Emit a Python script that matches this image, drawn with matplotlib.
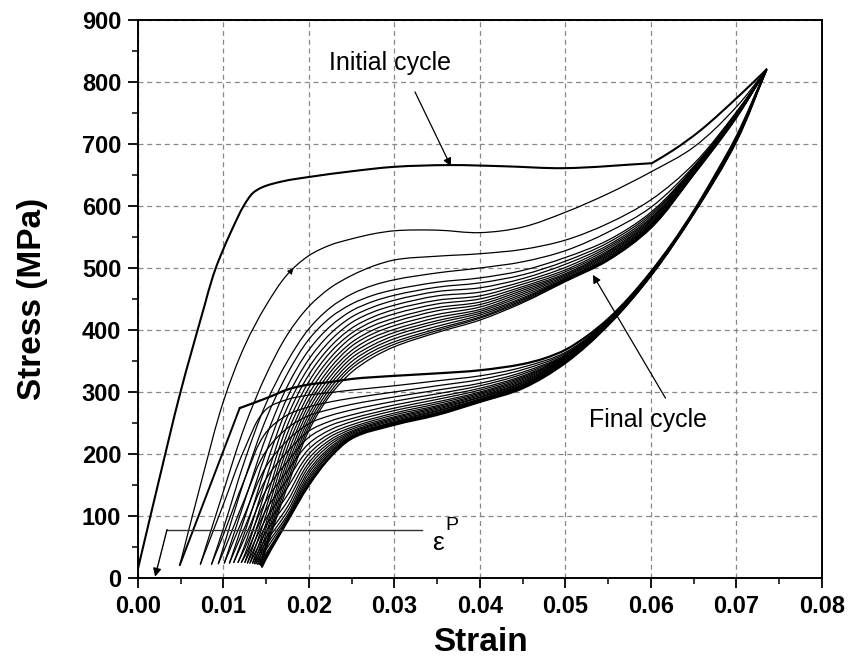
import numpy as np
import matplotlib
matplotlib.use("Agg")
import matplotlib.pyplot as plt
from matplotlib.path import Path
from matplotlib.patches import PathPatch

plt.rcParams['font.family'] = ['Liberation Sans', 'DejaVu Sans']

nan = np.nan

# ---------------- data ----------------
peak_strain = 0.0735
peak_stress = 820

# initial (first) cycle: loading up to the end of the plateau, then hardening branch
init_load_strain = [0.0, 0.0025, 0.0049, 0.0078, 0.0088, 0.0097, 0.0110, 0.0124, 0.01345,
                    0.0145, 0.0170, 0.0201, 0.0250, 0.0298, 0.0365, 0.0430, 0.0497, 0.0601]
init_load_stress = [15, 160, 296, 440, 488, 521, 562, 601, 621,
                    630, 640, 647, 656, 663, 666, 664, 661, 669]
init_harden_strain = [0.0601, 0.0626, 0.0657, 0.0704, 0.0735]
init_harden_stress = [669, 690, 721, 779, 820]
init_unload_strain = [0.0735, 0.070, 0.0675, 0.065, 0.0625, 0.060, 0.0575, 0.055, 0.0525,
                      0.050, 0.0475, 0.045, 0.040, 0.035, 0.030, 0.025, 0.0225, 0.020,
                      0.0175, 0.0154, 0.0119]
init_unload_stress = [820, 712, 650, 592, 540, 494, 453, 418, 390,
                      368, 354, 345, 335, 330, 326, 321, 316, 312,
                      304, 292, 274]
init_elastic_strain = [0.0119, 0.0049]
init_elastic_stress = [274, 21]

# residual strain / stress at the end of each unloading (cycles 1..20)
residual_strain = [0.0049, 0.0073, 0.0086, 0.0094, 0.0101, 0.0107, 0.0112, 0.0117, 0.0121, 0.0125,
                   0.0128, 0.0131, 0.0134, 0.0136, 0.0138, 0.0140, 0.0142, 0.0143, 0.0144, 0.0145]
residual_stress = [21, 22, 22, 23, 24, 24, 25, 25, 25, 25,
                   24, 24, 24, 23, 23, 22, 22, 21, 20, 18]

# loading curves of cycles 2..20 : stress at these strains
load_strain_stations = [0.0075, 0.01, 0.0125, 0.015, 0.0175, 0.02, 0.0225, 0.025, 0.0275,
                        0.03, 0.035, 0.04, 0.045, 0.05, 0.055, 0.06, 0.065, 0.07]
load_stress = [
    [160, 285, 375, 440, 490, 520, 537, 547, 555, 560, 561, 557, 566, 590, 620, 655, 695, 760],
    [nan, 140, 245, 328, 393, 438, 468, 488, 503, 513, 519, 523, 530, 545, 572, 610, 668, 752],
    [nan, 80, 190, 282, 350, 402, 436, 458, 472, 481, 492, 500, 510, 528, 558, 598, 664, 750],
    [nan, 50, 160, 257, 330, 385, 420, 442, 456, 465, 477, 484, 496, 517, 545, 590, 662, 750],
    [nan, nan, 125, 228, 310, 368, 406, 431, 446, 456, 469, 476, 489, 511, 541, 587, 661, 749],
    [nan, nan, 98, 203, 292, 353, 394, 421, 437, 448, 462, 468, 483, 506, 537, 584, 660, 749],
    [nan, nan, 74, 182, 276, 340, 383, 412, 429, 440, 455, 461, 478, 501, 534, 581, 659, 748],
    [nan, nan, 53, 161, 261, 328, 373, 403, 421, 433, 448, 455, 474, 497, 531, 579, 658, 748],
    [nan, nan, 38, 144, 247, 317, 364, 395, 414, 426, 442, 450, 470, 494, 528, 577, 657, 747],
    [nan, nan, nan, 127, 234, 307, 355, 388, 407, 419, 436, 445, 467, 491, 526, 575, 656, 747],
    [nan, nan, nan, 114, 222, 297, 347, 380, 400, 413, 431, 441, 464, 489, 524, 573, 655, 746],
    [nan, nan, nan, 102, 211, 288, 339, 374, 394, 407, 425, 437, 461, 487, 522, 571, 655, 746],
    [nan, nan, nan, 89, 200, 280, 332, 367, 388, 401, 420, 433, 458, 485, 520, 570, 654, 745],
    [nan, nan, nan, 81, 190, 272, 325, 361, 382, 396, 415, 430, 455, 483, 518, 569, 653, 745],
    [nan, nan, nan, 72, 181, 264, 318, 355, 376, 391, 411, 427, 452, 482, 516, 568, 652, 744],
    [nan, nan, nan, 64, 172, 257, 312, 349, 371, 386, 406, 424, 450, 481, 515, 567, 652, 744],
    [nan, nan, nan, 56, 164, 250, 306, 343, 366, 381, 402, 421, 448, 480, 514, 566, 651, 743],
    [nan, nan, nan, 51, 156, 244, 300, 338, 361, 377, 399, 419, 446, 479, 513, 565, 651, 743],
    [nan, nan, nan, 47, 148, 238, 295, 332, 356, 373, 396, 416, 444, 478, 512, 564, 650, 742],
]

# unloading curves of cycles 2..20 : stress at these strains
unload_strain_stations = [0.07, 0.065, 0.06, 0.055, 0.05, 0.045, 0.04, 0.035, 0.03, 0.025,
                          0.0225, 0.02, 0.0175, 0.015, 0.0125, 0.01]
unload_stress = [
    [711, 591, 493, 416, 364, 340, 326, 318, 310, 303, 299, 295, 288, 272, 209, 119],
    [711, 591, 493, 415, 362, 336, 320, 310, 300, 290, 284, 276, 263, 235, 160, 70],
    [710, 590, 492, 414, 360, 332, 314, 303, 292, 280, 272, 262, 242, 205, 128, 42],
    [710, 590, 492, 413, 359, 329, 310, 297, 285, 271, 262, 249, 222, 180, 103, nan],
    [709, 590, 491, 413, 358, 326, 306, 292, 279, 263, 253, 237, 204, 160, 82, nan],
    [709, 590, 491, 412, 357, 324, 303, 288, 274, 257, 246, 227, 188, 142, 65, nan],
    [708, 589, 490, 412, 356, 322, 300, 284, 270, 252, 239, 217, 173, 125, 48, nan],
    [708, 589, 490, 411, 355, 320, 298, 281, 266, 247, 233, 208, 159, 110, 35, nan],
    [708, 589, 490, 411, 354, 318, 296, 278, 263, 243, 228, 200, 146, 96, nan, nan],
    [707, 589, 489, 410, 353, 316, 294, 276, 260, 240, 223, 193, 134, 85, nan, nan],
    [707, 589, 489, 410, 352, 315, 292, 274, 258, 237, 219, 186, 124, 75, nan, nan],
    [707, 588, 489, 410, 351, 313, 291, 272, 256, 235, 215, 180, 115, 65, nan, nan],
    [706, 588, 489, 409, 350, 312, 289, 270, 254, 233, 211, 174, 108, 58, nan, nan],
    [706, 588, 488, 409, 350, 311, 288, 269, 252, 231, 208, 169, 102, 52, nan, nan],
    [706, 588, 488, 409, 349, 310, 287, 267, 251, 229, 205, 164, 98, 46, nan, nan],
    [705, 588, 488, 408, 348, 309, 286, 266, 250, 228, 202, 160, 95, 40, nan, nan],
    [705, 588, 488, 408, 348, 308, 285, 265, 249, 227, 200, 156, 93, 37, nan, nan],
    [705, 588, 488, 408, 347, 307, 284, 264, 248, 226, 197, 153, 92, 34, nan, nan],
    [705, 588, 488, 408, 347, 306, 284, 263, 247, 225, 195, 150, 92, 32, nan, nan],
]

x_ticks = [0.00, 0.01, 0.02, 0.03, 0.04, 0.05, 0.06, 0.07, 0.08]
y_ticks = [0, 100, 200, 300, 400, 500, 600, 700, 800, 900]

# ---------------- figure ----------------
fig = plt.figure(figsize=(8.48, 6.72), dpi=100)
ax = fig.add_axes([0.1627, 0.140, 0.8066, 0.8302])
ax.set_xlim(0, 0.08)
ax.set_ylim(0, 900)

# scale factors used only to make the smooth drawing isotropic on screen
SX = 684 / 0.08
SY = 558 / 900.0


def smooth_curve(xs, ys, lw=0.9):
    """Draw a smooth Bezier path through the given data points."""
    P = np.column_stack([np.asarray(xs, float) * SX, np.asarray(ys, float) * SY])
    n = len(P)
    if n < 3:
        ax.plot(xs, ys, color='black', lw=lw)
        return
    T = np.zeros_like(P)
    for i in range(n):
        if i == 0:
            d = P[1] - P[0]
        elif i == n - 1:
            d = P[-1] - P[-2]
        else:
            a = P[i] - P[i - 1]
            b = P[i + 1] - P[i]
            d = a / np.linalg.norm(a) + b / np.linalg.norm(b)
        T[i] = d / np.linalg.norm(d)
    verts = [P[0]]
    codes = [Path.MOVETO]
    for i in range(n - 1):
        L = np.linalg.norm(P[i + 1] - P[i])
        verts += [P[i] + T[i] * L / 3, P[i + 1] - T[i + 1] * L / 3, P[i + 1]]
        codes += [Path.CURVE4] * 3
    verts = np.array(verts) / np.array([SX, SY])
    ax.add_patch(PathPatch(Path(verts, codes), fill=False, edgecolor='black', lw=lw,
                           joinstyle='round', capstyle='round'))


# initial cycle (thicker)
smooth_curve(init_load_strain, init_load_stress, lw=1.5)
smooth_curve(init_harden_strain, init_harden_stress, lw=1.5)
smooth_curve(init_unload_strain, init_unload_stress, lw=1.6)
smooth_curve(init_elastic_strain, init_elastic_stress, lw=1.4)

ls_st = np.array(load_strain_stations)
us_st = np.array(unload_strain_stations)
for i in range(len(load_stress)):
    # loading of cycle i+2
    row = np.array(load_stress[i], dtype=float)
    m = np.isfinite(row)
    xs = np.concatenate([[residual_strain[i]], ls_st[m], [peak_strain]])
    ys = np.concatenate([[residual_stress[i]], row[m], [peak_stress]])
    smooth_curve(xs, ys, lw=0.9)
    # unloading of cycle i+2
    row = np.array(unload_stress[i], dtype=float)
    m = np.isfinite(row)
    xs = np.concatenate([[peak_strain], us_st[m], [residual_strain[i + 1]]])
    ys = np.concatenate([[peak_stress], row[m], [residual_stress[i + 1]]])
    lw = 1.6 if i == len(unload_stress) - 1 else 0.9
    smooth_curve(xs, ys, lw=lw)

# small direction arrow on second loading
ax.annotate('', xy=(0.0184, 503), xytext=(0.0177, 492),
            arrowprops=dict(arrowstyle='-|>', color='black', lw=0.6, mutation_scale=9))

# annotations
ax.text(0.0295, 830, 'Initial cycle', ha='center', va='center', fontsize=18)
ax.annotate('', xy=(0.0366, 664), xytext=(0.0324, 784),
            arrowprops=dict(arrowstyle='-|>', color='black', lw=0.9, mutation_scale=12,
                            shrinkA=0, shrinkB=0))
ax.text(0.0597, 254, 'Final cycle', ha='center', va='center', fontsize=18)
ax.annotate('', xy=(0.0532, 489), xytext=(0.0617, 290),
            arrowprops=dict(arrowstyle='-|>', color='black', lw=0.9, mutation_scale=12,
                            shrinkA=0, shrinkB=0))

# plastic strain marker
ax.plot([0.0332, 0.0034], [78, 78], color='#333333', lw=1.0)
ax.annotate('', xy=(0.0020, 2), xytext=(0.0034, 78),
            arrowprops=dict(arrowstyle='-|>', color='black', lw=1.0, mutation_scale=12,
                            shrinkA=0, shrinkB=0))
ax.text(0.0351, 57, 'ε', ha='center', va='center', fontsize=19)
ax.text(0.0367, 84, 'P', ha='center', va='center', fontsize=14)

# axes styling
ax.set_xticks(x_ticks)
ax.set_xticklabels([f'{v:.2f}' for v in x_ticks])
ax.set_yticks(y_ticks)
ax.set_yticklabels([str(v) for v in y_ticks])
ax.set_xticks(np.arange(0.005, 0.08, 0.01), minor=True)
ax.set_yticks(np.arange(50, 900, 100), minor=True)
ax.tick_params(which='major', direction='out', length=7, width=1.3, labelsize=17, pad=5)
ax.tick_params(which='minor', direction='out', length=4, width=1.1)
for lab in ax.get_xticklabels() + ax.get_yticklabels():
    lab.set_fontweight('bold')
for sp in ax.spines.values():
    sp.set_linewidth(1.4)
ax.grid(True, which='major', color='#888888', linestyle=(0, (4, 3)), lw=0.9)
ax.set_axisbelow(True)

ax.set_xlabel('Strain', fontsize=24, fontweight='bold', labelpad=7)
ax.set_ylabel('Stress (MPa)', fontsize=24, fontweight='bold', labelpad=24)

fig.savefig('out.png', dpi=100)
